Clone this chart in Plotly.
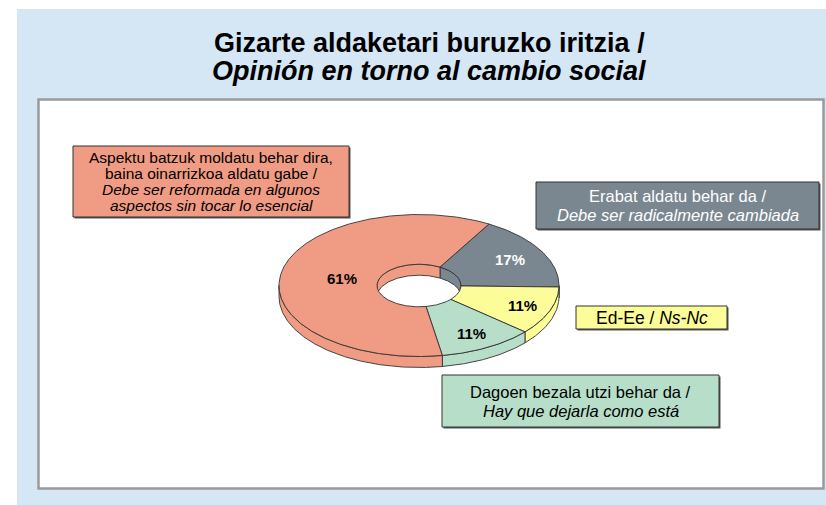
import numpy as np
import plotly.graph_objects as go

# ---------------- data ----------------
categories = [
    "Erabat aldatu behar da / Debe ser radicalmente cambiada",
    "Ed-Ee / Ns-Nc",
    "Dagoen bezala utzi behar da / Hay que dejarla como está",
    "Aspektu batzuk moldatu behar dira, baina oinarrizkoa aldatu gabe / "
    "Debe ser reformada en algunos aspectos sin tocar lo esencial",
]
values = [17, 11, 11, 61]

title_lines = [
    "<b>Gizarte aldaketari buruzko iritzia /</b>",
    "<b><i>Opinión en torno al cambio social</i></b>",
]
box_lines = [
    ["Erabat aldatu behar da /", "<i>Debe ser radicalmente cambiada</i>"],
    ["Ed-Ee / <i>Ns-Nc</i>"],
    ["Dagoen bezala utzi behar da /", "<i>Hay que dejarla como está</i>"],
    ["Aspektu batzuk moldatu behar dira,", "baina oinarrizkoa aldatu gabe /",
     "<i>Debe ser reformada en algunos</i>", "<i>aspectos sin tocar lo esencial</i>"],
]

# ---------------- style ----------------
colors = ["#7A8791", "#FCFC99", "#B6DEC8", "#F09C84"]
label_colors = ["white", "black", "black", "black"]
label_r = [0.75, 0.79, 0.77, 0.56]
box_text_colors = ["white", "black", "black", "black"]
box_rects = [(536, 182, 819, 229), (576, 306, 727, 329), (442, 375, 719, 427), (73, 146, 349, 217)]
box_font = [16.5, 17.5, 16.5, 15.5]
box_pitch = [19, 18, 19, 16]
FONT = "Liberation Sans, Arial, sans-serif"
EDGE = "#333333"

W, H = 826, 505
CX, CY, RX, RY = 419, 285.5, 140, 71
HOLE = 0.3
DEPTH = 11
START = 60  # degrees, measured counter-clockwise from 3 o'clock; slices go clockwise


def pts(theta, r, dy=0.0):
    t = np.radians(theta)
    return CX + r * RX * np.cos(t), CY - r * RY * np.sin(t) + dy


def arc(a, b, r, dy=0.0):
    n = max(2, int(abs(b - a) * 2) + 2)
    th = np.linspace(a, b, n)
    x, y = pts(th, r, dy)
    return list(x), list(y)


def windows(hi, lo, wlo, whi):
    out = []
    for k in range(-2, 3):
        l = max(lo, wlo + 360 * k)
        h = min(hi, whi + 360 * k)
        if h > l:
            out.append((h, l))
    return out


total = sum(values)
bounds = []
a = START
for v in values:
    span = 360.0 * v / total
    bounds.append((a, a - span))
    a -= span

fig = go.Figure()


def poly(xs, ys, color):
    fig.add_trace(go.Scatter(
        x=xs + [xs[0]], y=ys + [ys[0]], mode="lines", fill="toself",
        fillcolor=color, line=dict(color=EDGE, width=0.9),
        hoverinfo="skip", showlegend=False))


# outer front walls
for (a0, a1), c in zip(bounds, colors):
    for h, l in windows(a0, a1, -180, 0):
        x1, y1 = arc(h, l, 1.0)
        x2, y2 = arc(l, h, 1.0, DEPTH)
        poly(x1 + x2, y1 + y2, c)

# inner back walls (seen through the hole)
for (a0, a1), c in zip(bounds, colors):
    for h, l in windows(a0, a1, 0, 180):
        x1, y1 = arc(h, l, HOLE)
        x2, y2 = arc(l, h, HOLE, DEPTH)
        poly(x1 + x2, y1 + y2, c)

# top faces
for (a0, a1), c in zip(bounds, colors):
    x1, y1 = arc(a0, a1, 1.0)
    x2, y2 = arc(a1, a0, HOLE)
    poly(x1 + x2, y1 + y2, c)

annotations = []
# percentage labels
for (a0, a1), v, lc, r in zip(bounds, values, label_colors, label_r):
    mid = (a0 + a1) / 2
    x, y = pts(mid, r)
    annotations.append(dict(x=float(x), y=float(y), text=f"<b>{v}%</b>", showarrow=False,
                            font=dict(family=FONT, size=15, color=lc),
                            xanchor="center", yanchor="middle"))

shapes = [
    dict(type="rect", x0=17, y0=9, x1=W + 2, y1=H + 2, fillcolor="#D5E6F4",
         line=dict(width=0), layer="below"),
    dict(type="rect", x0=38.5, y0=99.5, x1=823.5, y1=488.5, fillcolor="white",
         line=dict(color="#9A9A9A", width=2.5), layer="below"),
]

for lines, rect, c, tc, fs, pitch in zip(box_lines, box_rects, colors, box_text_colors, box_font, box_pitch):
    x0, y0, x1, y1 = rect
    shapes.append(dict(type="rect", x0=x0 + 1.5, y0=y0 + 1.5, x1=x1 + 1.5, y1=y1 + 1.5,
                       fillcolor="#555555", line=dict(width=0), layer="below"))
    shapes.append(dict(type="rect", x0=x0, y0=y0, x1=x1, y1=y1, fillcolor=c,
                       line=dict(color=EDGE, width=1), layer="below"))
    cxb = (x0 + x1) / 2
    cyb = (y0 + y1) / 2
    n = len(lines)
    for i, t in enumerate(lines):
        yy = cyb + (i - (n - 1) / 2) * pitch
        annotations.append(dict(x=cxb, y=yy, text=t, showarrow=False,
                                font=dict(family=FONT, size=fs, color=tc),
                                xanchor="center", yanchor="middle"))

for i, t in enumerate(title_lines):
    annotations.append(dict(x=429, y=43 + 28 * i, text=t, showarrow=False,
                            font=dict(family=FONT, size=27, color="black"),
                            xanchor="center", yanchor="middle"))

fig.update_layout(
    width=W, height=H,
    margin=dict(l=0, r=0, t=0, b=0),
    paper_bgcolor="white", plot_bgcolor="rgba(0,0,0,0)",
    xaxis=dict(range=[0, W], visible=False, fixedrange=True, domain=[0, 1]),
    yaxis=dict(range=[H, 0], visible=False, fixedrange=True, domain=[0, 1]),
    shapes=shapes, annotations=annotations, showlegend=False,
)

fig.write_html("out.html", config={"displayModeBar": False},
               post_script="document.body.style.margin='0px';")
